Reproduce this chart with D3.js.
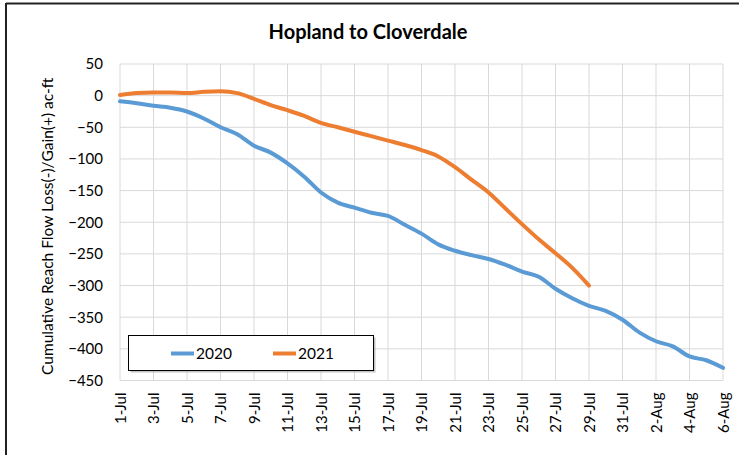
<!DOCTYPE html>
<html>
<head>
<meta charset="utf-8">
<script src="https://cdn.jsdelivr.net/npm/d3@7/dist/d3.min.js"></script>
<style>
  body { margin: 0; background: #fff; }
  svg { display: block; font-family: Lato, "Open Sans", sans-serif; }
</style>
</head>
<body>
<svg id="chart" width="739" height="455"></svg>
<script>
// ---- data ----
const days = d3.range(1, 38); // 1-Jul .. 6-Aug (day index from 1-Jul)
const tickLabels = ["1-Jul","3-Jul","5-Jul","7-Jul","9-Jul","11-Jul","13-Jul","15-Jul","17-Jul","19-Jul",
  "21-Jul","23-Jul","25-Jul","27-Jul","29-Jul","31-Jul","2-Aug","4-Aug","6-Aug"];
const series2020 = [-9, -12, -16, -19, -25, -36, -50, -61, -79, -90, -107, -128, -153, -169, -177, -185,
  -190, -204, -218, -235, -245, -252, -258, -267, -278, -286, -305, -320, -332, -340, -354, -374, -388,
  -396, -412, -418, -430];
const series2021 = [1, 4, 5, 5, 4, 6, 7, 4, -5, -15, -23, -32, -43, -50, -57, -64, -71, -78, -86, -96,
  -113, -133, -153, -178, -203, -227, -249, -272, -300];
const yTicks = [50, 0, -50, -100, -150, -200, -250, -300, -350, -400, -450];
const seriesNames = ["2020", "2021"];
const colors = ["#5b9bd5", "#ed7d31"];

// ---- layout ----
const svg = d3.select("#chart");
const L = 120, R = 723, T = 64, B = 380.5;
const FONT = "Lato, 'Open Sans', sans-serif";

const x = d3.scaleLinear().domain([1, 37]).range([L, R]);
const y = d3.scaleLinear().domain([-450, 50]).range([B, T]);

// outer frame (top and left edges visible)
svg.append("line").attr("x1", 6).attr("x2", 739).attr("y1", 3.5).attr("y2", 3.5)
  .attr("stroke", "#222").attr("stroke-width", 2);
svg.append("line").attr("x1", 6).attr("x2", 6).attr("y1", 3).attr("y2", 455)
  .attr("stroke", "#222").attr("stroke-width", 2);

// title
svg.append("text").attr("x", 368).attr("y", 39).attr("text-anchor", "middle")
  .attr("font-size", 20).attr("font-weight", "bold").attr("fill", "#000")
  .text("Hopland to Cloverdale");

// gridlines
const tickDays = tickLabels.map((_, i) => 1 + i * 2);
svg.append("g").selectAll("line").data(yTicks).join("line")
  .attr("x1", L).attr("x2", R).attr("y1", d => y(d)).attr("y2", d => y(d))
  .attr("stroke", "#d9d9d9").attr("stroke-width", 1);
svg.append("g").selectAll("line").data(tickDays).join("line")
  .attr("x1", d => x(d)).attr("x2", d => x(d)).attr("y1", T).attr("y2", B)
  .attr("stroke", "#d9d9d9").attr("stroke-width", 1);

// y axis
const yAxis = d3.axisLeft(y).tickValues(yTicks).tickSize(0).tickPadding(17);
const gy = svg.append("g").attr("transform", `translate(${L},0)`).call(yAxis);
gy.select(".domain").remove();
gy.selectAll("text").attr("font-size", 15).attr("fill", "#000").attr("font-family", FONT);

// x axis
const xAxis = d3.axisBottom(x).tickValues(tickDays)
  .tickFormat((d, i) => tickLabels[i]).tickSize(0);
const gx = svg.append("g").attr("transform", `translate(0,${B})`).call(xAxis);
gx.select(".domain").remove();
gx.selectAll("text")
  .attr("font-size", 15).attr("fill", "#000").attr("font-family", FONT)
  .attr("text-anchor", "end")
  .attr("transform", "rotate(-90)")
  .attr("x", -12).attr("y", 0).attr("dy", "0.35em");

// y axis title
svg.append("text")
  .attr("transform", `translate(53,${(T + B) / 2 + 4}) rotate(-90)`)
  .attr("text-anchor", "middle").attr("font-size", 15.5).attr("fill", "#000")
  .text("Cumulative Reach Flow Loss(-)/Gain(+) ac-ft");

// lines
const line = d3.line().x((d, i) => x(days[i])).y(d => y(d)).curve(d3.curveMonotoneX);
[series2020, series2021].forEach((s, k) => {
  svg.append("path").datum(s).attr("d", line)
    .attr("fill", "none").attr("stroke", colors[k]).attr("stroke-width", 4)
    .attr("stroke-linejoin", "round").attr("stroke-linecap", "round");
});

// legend
const lg = svg.append("g");
lg.append("rect").attr("x", 130.5).attr("y", 337.5).attr("width", 245).attr("height", 35)
  .attr("fill", "#888").attr("opacity", 0.5);
lg.append("rect").attr("x", 128.5).attr("y", 335.5).attr("width", 245).attr("height", 35)
  .attr("fill", "#fff").attr("stroke", "#000").attr("stroke-width", 1);
const legendX = [171, 273];
seriesNames.forEach((n, k) => {
  lg.append("line").attr("x1", legendX[k]).attr("x2", legendX[k] + 23)
    .attr("y1", 353.5).attr("y2", 353.5).attr("stroke", colors[k]).attr("stroke-width", 4);
  lg.append("text").attr("x", legendX[k] + 25).attr("y", 359).attr("font-size", 15.5)
    .attr("fill", "#000").text(n);
});
</script>
</body>
</html>
